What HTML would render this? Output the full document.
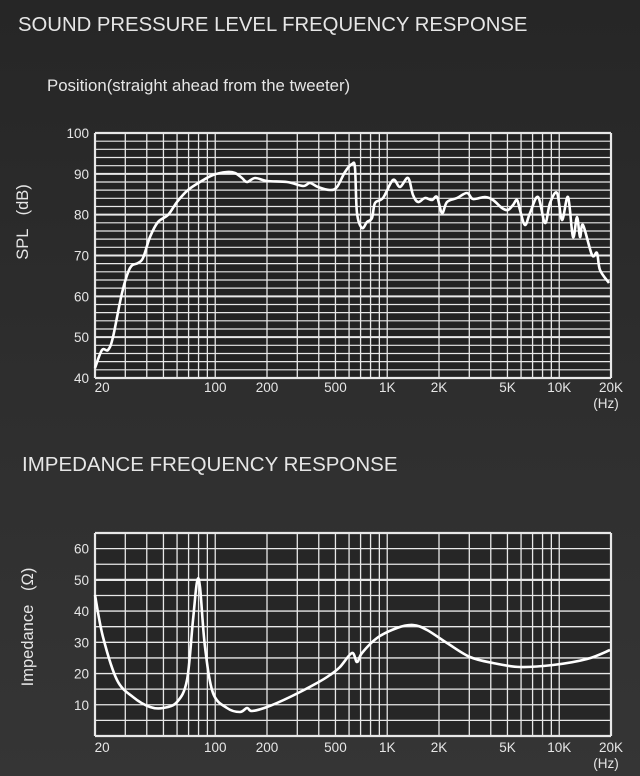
<!DOCTYPE html>
<html><head><meta charset="utf-8"><style>
html,body{margin:0;padding:0;}
body{width:640px;height:776px;background:linear-gradient(180deg,#262626 0%,#2e2e2e 50%,#353535 100%);overflow:hidden;font-family:"Liberation Sans",sans-serif;}
</style></head><body>
<svg id="s" width="640" height="776" xmlns="http://www.w3.org/2000/svg" style="position:absolute;left:0;top:0">
<text x="18" y="31" fill="#e6e6e6" font-size="20.3" font-family="Liberation Sans">SOUND PRESSURE LEVEL FREQUENCY RESPONSE</text>
<text x="47" y="91" fill="#e6e6e6" font-size="16.8" font-family="Liberation Sans">Position(straight ahead from the tweeter)</text>
<text transform="translate(28,222) rotate(-90)" text-anchor="middle" fill="#e6e6e6" font-size="16.5" font-family="Liberation Sans" xml:space="preserve">SPL   (dB)</text>
<text x="22" y="471" fill="#e6e6e6" font-size="20.5" font-family="Liberation Sans">IMPEDANCE FREQUENCY RESPONSE</text>
<text transform="translate(33,627) rotate(-90)" text-anchor="middle" fill="#e6e6e6" font-size="16.5" font-family="Liberation Sans" xml:space="preserve">Impedance   (Ω)</text>
<rect x="95" y="133" width="516" height="245" fill="#222"/>
<rect x="95" y="533" width="516" height="203" fill="#262626"/>
<g id="g"></g>
<path id="c1" fill="none" stroke="#fff" stroke-width="2.6" stroke-linejoin="round"/>
<path id="c2" fill="none" stroke="#fff" stroke-width="2.6" stroke-linejoin="round"/>
</svg>
<script>
var g=document.getElementById('g'),ns='http://www.w3.org/2000/svg';
function L(x1,y1,x2,y2,w){var l=document.createElementNS(ns,'line');l.setAttribute('x1',x1);l.setAttribute('y1',y1);l.setAttribute('x2',x2);l.setAttribute('y2',y2);l.setAttribute('stroke','#e8e8e8');l.setAttribute('stroke-width',w);g.appendChild(l);}
function T(x,y,s,a){var t=document.createElementNS(ns,'text');t.setAttribute('x',x);t.setAttribute('y',y);t.setAttribute('fill','#e6e6e6');t.setAttribute('font-size','13.5');t.setAttribute('font-family','Liberation Sans');if(a)t.setAttribute('text-anchor',a);t.textContent=s;g.appendChild(t);}
function X(f){return 95+172*Math.log10(f/20);}
var fs=[];for(var d=10;d<=10000;d*=10)for(var k=1;k<10;k++){var f=k*d;if(f>=20&&f<=20000)fs.push(f);}fs.push(20000);
fs.forEach(function(f){var x=X(f);L(x,133,x,378,1.3);L(x,533,x,736,1.3);});
for(var db=40;db<=100;db+=2){var y=133+(100-db)*4.083;L(95,y,611,y,db%10==0?2:1.2);}
for(var o=0;o<=65;o+=5){var y=736-o*3.123;L(95,y,611,y,o==50?2.2:1.3);}
L(95,133,95,378,2.2);L(611,133,611,378,2.2);L(95,133,611,133,2.2);L(95,378,611,378,2.2);
L(95,533,95,736,2.2);L(611,533,611,736,2.2);L(95,533,611,533,2.2);L(95,736,611,736,2.2);
for(var db=40;db<=100;db+=10)T(89,133+(100-db)*4.083+5,''+db,'end');
for(var o=10;o<=60;o+=10)T(89,736-o*3.123+5,''+o,'end');
var lab=[[20,'20'],[100,'100'],[200,'200'],[500,'500'],[1000,'1K'],[2000,'2K'],[5000,'5K'],[10000,'10K'],[20000,'20K']];
lab.forEach(function(p){var x=X(p[1]=='20'?22:p[0]);T(x,392,p[1],'middle');T(x,752,p[1],'middle');});
T(606,408,'(Hz)','middle');T(606,768,'(Hz)','middle');
function smooth(s){var a=s.trim().split(/\s+/).map(function(p){return p.split(',').map(Number);});
var d='M'+a[0][0]+','+a[0][1];
for(var i=0;i<a.length-1;i++){var p0=a[i-1]||a[i],p1=a[i],p2=a[i+1],p3=a[i+2]||p2;
d+=' C'+(p1[0]+(p2[0]-p0[0])/6).toFixed(1)+','+(p1[1]+(p2[1]-p0[1])/6).toFixed(1)+' '+(p2[0]-(p3[0]-p1[0])/6).toFixed(1)+','+(p2[1]-(p3[1]-p1[1])/6).toFixed(1)+' '+p2[0]+','+p2[1];}
return d;}
document.getElementById('c1').setAttribute('d',smooth("95,368 102,350 108,350 113,337 122,293 130,268 138,263 143,258 150,237 158,222 168,215 177,202 188,190 200,182 213,175 227,172 235,173 242,178 247,182 255,178 267,181 287,182 303,186 310,183 318,187 330,190 337,187 345,172 352,164 355,168 357,213 362,228 367,222 372,218 375,203 383,198 393,180 400,187 408,178 413,195 418,202 425,198 432,200 437,197 442,213 447,202 457,198 467,193 473,199 485,197 493,200 502,208 508,210 513,205 517,200 520,210 525,225 530,213 538,197 545,223 550,203 557,193 562,220 568,197 573,237 577,217 580,237 583,225 592,255 597,253 600,270 609,283"));
document.getElementById('c2').setAttribute('d',smooth("95,595 103,637 117,680 133,697 150,707 163,708 177,702 187,680 193,620 197,582 200,587 205,647 213,693 227,708 240,712 247,708 252,711 267,707 290,697 317,683 330,675 340,667 352,653 357,662 362,653 377,638 397,628 413,625 427,630 447,643 470,657 493,663 520,667 553,665 587,659 610,650"));
</script>
</body></html>
